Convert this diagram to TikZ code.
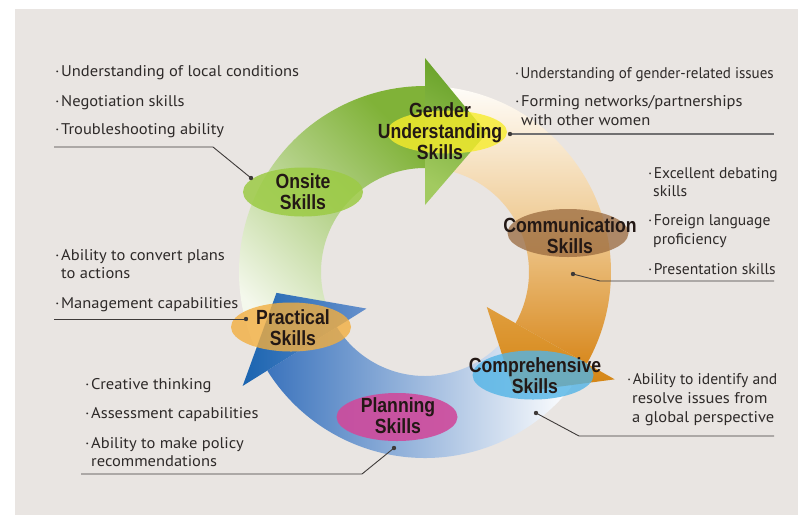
\documentclass[tikz,border=0pt]{standalone}
\usepackage{graphicx}
\usepackage{fontspec}
\setmainfont[FakeStretch=1.065]{PT Sans}
\newfontfamily\lblfont[FakeStretch=0.86]{Liberation Sans}
\usetikzlibrary{shapes.geometric}
\definecolor{bg}{HTML}{E9E5E2}
\definecolor{txtc}{HTML}{2E2A29}
\definecolor{lblc}{HTML}{231815}
\definecolor{linec}{HTML}{3E3A39}
\definecolor{linegray}{HTML}{717071}
\definecolor{gwhite}{HTML}{F4F8EC}
\definecolor{gdark}{HTML}{80B238}
\definecolor{gheadd}{HTML}{66A026}
\definecolor{gheadl}{HTML}{A2CA60}
\definecolor{owhite}{HTML}{FFFDF9}
\definecolor{omid}{HTML}{EFCB94}
\definecolor{odark}{HTML}{D8891F}
\definecolor{oheadt}{HTML}{E09E3E}
\definecolor{oheadb}{HTML}{D38312}
\definecolor{bdark}{HTML}{3C74BD}
\definecolor{bheadd}{HTML}{1A64B0}
\definecolor{bheadl}{HTML}{6690CC}
\definecolor{onsitec}{HTML}{9CCB45}
\definecolor{genderc}{HTML}{F7EC2C}
\definecolor{commc}{HTML}{9A6A3E}
\definecolor{comprc}{HTML}{52B4E6}
\definecolor{planc}{HTML}{CF4A9C}
\definecolor{practc}{HTML}{F2AE40}
\newcommand\bul{\makebox[6pt][l]{·}}
\newcommand\sq[2]{\scalebox{#1}[1]{#2}}
\begin{document}
\begin{tikzpicture}[x=1pt,y=1pt,
  skillell/.style={ellipse, minimum width=120pt, minimum height=48pt, inner sep=0pt, fill opacity=0.8},
  skilltxt/.style={align=center, inner sep=0pt, text=lblc,
    font=\lblfont\bfseries\fontsize{20.5}{21}\selectfont},
  txt/.style={anchor=base west, inner sep=0pt, text=txtc,
    font=\fontsize{15.5}{18}\selectfont},
  conn/.style={draw=linec, line width=0.9pt},
  conng/.style={draw=linegray, line width=1.3pt},
  dotc/.style={fill=linec}]
\useasboundingbox (0,0) rectangle (798,-515);
\fill[white] (0,0) rectangle (798,-515);
\fill[bg] (15,-9) rectangle (798,-515);

% ring arrows
\begin{scope}[shift={(425,-272)}]
  % blue shaft
  \shade[left color=bdark, right color=white]
    (-38:186) arc[start angle=-38, end angle=-148, radius=186]
    -- (-148:104) arc[start angle=-148, end angle=-38, radius=104] -- cycle;
  % orange shaft
  \shade[top color=owhite, bottom color=odark, middle color=omid]
    (84:186) arc[start angle=84, end angle=-29.5, radius=186]
    -- (-29.5:104) arc[start angle=-29.5, end angle=84, radius=104] -- cycle;
  % orange head
  \shade[top color=oheadt, bottom color=oheadb]
    (-29.5:218) -- (-53.5:150) -- (-29.5:71) -- cycle;
  % green shaft
  \shade[top color=gdark, bottom color=gwhite, shading angle=-45]
    (205:186) arc[start angle=205, end angle=90, radius=186]
    -- (90:104) arc[start angle=90, end angle=205, radius=104] -- cycle;
  % green head
  \shade[top color=gheadd, bottom color=gheadl, shading angle=-30]
    (90:214) -- (66:152) -- (90:67) -- cycle;
  % blue head
  \shade[left color=bheadd, right color=bheadl]
    (212:215) -- (188:150) -- (212:69) -- cycle;
\end{scope}

% skill ellipses
\node[skillell, fill=onsitec, fill opacity=0.85, minimum height=49pt] (onsiteE) at (303,-192) {};
\node[skillell, fill=genderc, minimum height=43pt] (genderE) at (447,-132) {};
\node[skillell, fill=commc, fill opacity=0.75, minimum width=121pt] (commE) at (568,-233) {};
\node[skillell, fill=comprc, minimum width=121pt, minimum height=49pt] (comprE) at (533,-375) {};
\node[skillell, fill=planc, fill opacity=0.9, minimum width=121pt] (planE) at (397,-417) {};
\node[skillell, fill=practc, minimum height=49pt] (practE) at (291,-327) {};

% skill labels
\node[skilltxt] (onsite) at (303,-192) {Onsite\\Skills};
\node[skilltxt] (gender) at (440,-131) {Gender\\Understanding\\Skills};
\node[skilltxt] (comm) at (570,-236) {Communication\\Skills};
\node[skilltxt] (compr) at (535,-376) {Comprehensive\\Skills};
\node[skilltxt] (plan) at (398,-416) {Planning\\Skills};
\node[skilltxt] (pract) at (293,-328) {Practical\\Skills};

% text groups
\node[txt] (a1) at (55,-76) {\bul Understanding of local conditions};
\node[txt] (a2) at (55,-106) {\bul Negotiation skills};
\node[txt] (a3) at (55,-134) {\bul Troubleshooting ability};

\node[txt] (b1) at (515,-78) {\sq{0.91}{\bul Understanding of gender-related issues}};
\node[txt] (b2) at (515,-106) {\bul Forming networks/partnerships};
\node[txt] (b3) at (521,-125) {with other women};

\node[txt] (c1) at (648,-178) {\sq{0.94}{\bul Excellent debating}};
\node[txt] (c2) at (653,-196) {\sq{0.95}{skills}};
\node[txt] (c3) at (648,-225) {\sq{0.945}{\bul Foreign language}};
\node[txt] (c4) at (653,-244) {\sq{0.96}{proficiency}};
\node[txt] (c5) at (648,-274) {\sq{0.945}{\bul Presentation skills}};

\node[txt] (d1) at (627,-384) {\sq{0.945}{\bul Ability to identify and}};
\node[txt] (d2) at (632,-403) {resolve issues from};
\node[txt] (d3) at (632,-422) {a global perspective};

\node[txt] (e1) at (55,-260) {\bul Ability to convert plans};
\node[txt] (e2) at (61,-278) {to actions};
\node[txt] (e3) at (55,-308) {\bul Management capabilities};

\node[txt] (f1) at (85,-389) {\bul Creative thinking};
\node[txt] (f2) at (85,-418) {\bul Assessment capabilities};
\node[txt] (f3) at (85,-448) {\bul Ability to make policy};
\node[txt] (f4) at (91,-466) {recommendations};

% connector points
\coordinate (aS) at (54,-147);
\coordinate (aK) at (213,-147);
\coordinate (aD) at (251,-178);
\coordinate (bD) at (510,-134);
\coordinate (bE) at (774,-134);
\coordinate (cD) at (573,-274);
\coordinate (cK) at (600,-281);
\coordinate (cE) at (774,-281);
\coordinate (dD) at (536,-413);
\coordinate (dK) at (579,-436);
\coordinate (dE) at (774,-436);
\coordinate (eS) at (54,-319);
\coordinate (eD) at (246,-319);
\coordinate (fS) at (81,-474);
\coordinate (fK) at (362,-474);
\coordinate (fD) at (394,-448);

\draw[conn] (aS) -- (aK) -- (aD);
\draw[conng] (bD) -- (bE);
\draw[conn] (cD) -- (cK) -- (cE);
\draw[conn] (dD) -- (dK) -- (dE);
\draw[conn] (eS) -- (eD);
\draw[conn] (fS) -- (fK) -- (fD);
\foreach \p in {aD,bD,cD,dD,eD,fD} \fill[dotc] (\p) circle (2.2pt);
\end{tikzpicture}
\end{document}
